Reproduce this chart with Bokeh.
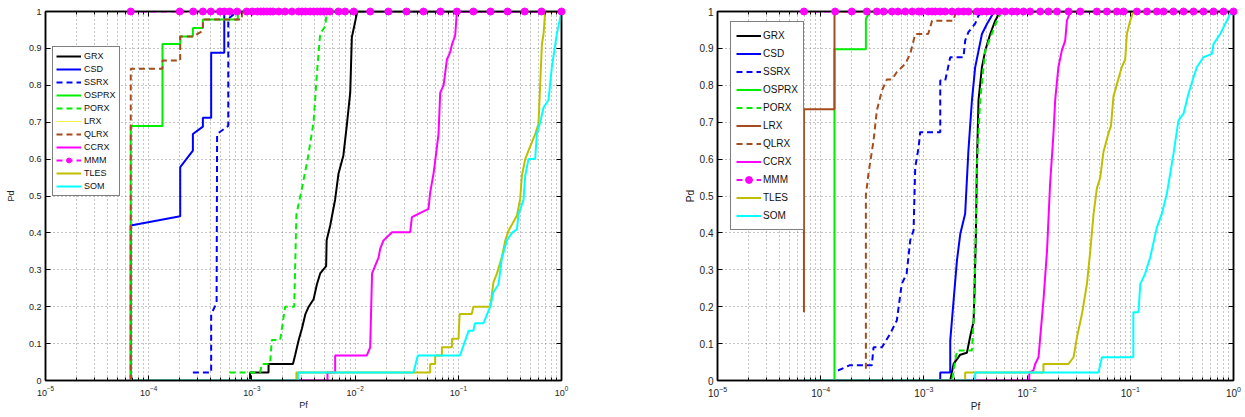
from bokeh.plotting import figure
from bokeh.layouts import row
from bokeh.models import (Range1d, LogAxis, LinearAxis, FixedTicker, CustomJSTickFormatter,
                          Legend, LegendItem)
from bokeh.embed import file_html
from bokeh.resources import INLINE

FONT = "Liberation Sans"

# ---------------- ticks ----------------
x_major = [1e-5, 1e-4, 1e-3, 1e-2, 1e-1, 1e0]
x_minor = [m * 10.0 ** e for e in range(-5, 0) for m in range(2, 10)]
y_major = [0, 0.1, 0.2, 0.3, 0.4, 0.5, 0.6, 0.7, 0.8, 0.9, 1.0]

names = ["GRX", "CSD", "SSRX", "OSPRX", "PORX", "LRX", "QLRX", "CCRX", "MMM", "TLES", "SOM"]

# ---------------- left panel data ----------------
grx_l_pf = [6.7e-5, 9.6e-4, 9.6e-4, 1.45e-3, 1.45e-3, 2.5e-3, 2.63e-3, 2.84e-3, 3.05e-3, 3.3e-3, 3.55e-3,
            3.96e-3, 4.26e-3, 4.59e-3, 5.24e-3, 5.3e-3, 5.74e-3, 6.4e-3, 6.9e-3, 7.7e-3, 8.3e-3, 8.97e-3,
            9.3e-3, 9.8e-3, 1.05e-2, 1.0]
grx_l_pd = [0, 0, 0.022, 0.022, 0.045, 0.045, 0.07, 0.11, 0.14, 0.18, 0.2, 0.22, 0.26, 0.29, 0.31, 0.38,
            0.42, 0.49, 0.56, 0.61, 0.69, 0.78, 0.93, 0.96, 1.0, 1.0]

csd_l_pf = [6.7e-5, 6.7e-5, 2.02e-4, 2.02e-4, 2.68e-4, 2.68e-4, 3.35e-4, 3.35e-4, 4.03e-4, 4.03e-4,
            5.4e-4, 5.4e-4, 1.0]
csd_l_pd = [0, 0.42, 0.445, 0.578, 0.623, 0.668, 0.688, 0.712, 0.712, 0.888, 0.888, 1.0, 1.0]

ssrx_l_pf = [2.68e-4, 4.03e-4, 4.03e-4, 4.55e-4, 4.6e-4, 5.9e-4, 5.9e-4, 7.2e-4, 1.0]
ssrx_l_pd = [0.022, 0.022, 0.18, 0.21, 0.668, 0.69, 0.98, 1.0, 1.0]

osprx_l_pf = [6.7e-5, 6.7e-5, 1.36e-4, 1.36e-4, 2.02e-4, 2.02e-4, 2.68e-4, 2.68e-4, 3.35e-4, 3.35e-4,
              7.3e-4, 7.3e-4, 1.0]
osprx_l_pd = [0, 0.69, 0.69, 0.912, 0.912, 0.932, 0.932, 0.955, 0.955, 0.978, 0.978, 1.0, 1.0]

porx_l_pf = [6.07e-4, 1.2e-3, 1.25e-3, 1.5e-3, 1.56e-3, 1.88e-3, 2.1e-3, 2.57e-3, 2.7e-3, 3.05e-3,
             3.47e-3, 3.96e-3, 4.26e-3, 4.59e-3, 5.13e-3, 5.33e-3, 1.0]
porx_l_pd = [0.022, 0.022, 0.045, 0.045, 0.11, 0.11, 0.2, 0.2, 0.45, 0.52, 0.6, 0.7, 0.83, 0.94, 0.96,
             1.0, 1.0]

lrx_l_pf = [6.7e-5, 1.0]
lrx_l_pd = [1.0, 1.0]

qlrx_l_pf = [6.7e-5, 6.7e-5, 1.36e-4, 1.36e-4, 2.02e-4, 2.02e-4, 2.68e-4, 3.35e-4, 3.35e-4, 8.0e-4,
             8.0e-4, 1.0]
qlrx_l_pd = [0, 0.845, 0.845, 0.867, 0.867, 0.932, 0.932, 0.948, 0.978, 0.978, 1.0, 1.0]

ccrx_l_pf = [6.7e-5, 5.4e-3, 5.4e-3, 6.41e-3, 6.41e-3, 1.30e-2, 1.4e-2, 1.46e-2, 1.57e-2, 1.69e-2,
             1.75e-2, 1.88e-2, 2.28e-2, 3.42e-2, 3.55e-2, 5.14e-2, 5.34e-2, 5.75e-2, 6.0e-2, 6.43e-2,
             6.68e-2, 7.2e-2, 7.76e-2, 8.35e-2, 8.67e-2, 9.33e-2, 9.69e-2, 1.0]
ccrx_l_pd = [0, 0, 0.022, 0.022, 0.068, 0.068, 0.09, 0.29, 0.312, 0.334, 0.357, 0.379, 0.402, 0.402,
             0.443, 0.465, 0.51, 0.56, 0.6, 0.668, 0.78, 0.8, 0.87, 0.89, 0.91, 0.935, 1.0, 1.0]

mmm_l_pf = [6.7e-5, 2.0e-4, 2.7e-4, 3.35e-4, 4.0e-4, 4.9e-4, 5.4e-4, 6.1e-4, 7.2e-4, 8.9e-4, 1.01e-3,
            1.13e-3, 1.22e-3, 1.3e-3, 1.4e-3, 1.5e-3, 1.6e-3, 1.82e-3, 2.1e-3, 2.44e-3, 2.84e-3,
            3.05e-3, 3.3e-3, 3.67e-3, 3.96e-3, 4.3e-3, 4.6e-3, 4.95e-3, 5.3e-3, 5.7e-3, 6.9e-3, 8.0e-3,
            9.7e-3, 1.4e-2, 2.1e-2, 3.15e-2, 4.6e-2, 6.7e-2, 9.7e-2, 0.14, 0.205, 0.3, 0.44, 0.64, 1.0]
mmm_l_pd = [1.0] * len(mmm_l_pf)

tles_l_pf = [6.7e-5, 2.7e-3, 2.7e-3, 5.34e-2, 5.34e-2, 5.97e-2, 5.97e-2, 6.94e-2, 6.94e-2, 8.67e-2,
             8.67e-2, 0.1005, 0.103, 0.135, 0.14, 0.204, 0.219, 0.236, 0.264, 0.285, 0.307, 0.37,
             0.398, 0.413, 0.445, 0.479, 0.517, 0.556, 0.598, 0.622, 0.646, 0.67, 0.695, 1.0]
tles_l_pd = [0, 0, 0.022, 0.022, 0.045, 0.045, 0.068, 0.068, 0.09, 0.09, 0.113, 0.113, 0.18, 0.18,
             0.2, 0.2, 0.266, 0.289, 0.334, 0.379, 0.406, 0.447, 0.492, 0.555, 0.6, 0.623, 0.646,
             0.668, 0.695, 0.804, 0.912, 0.939, 1.0, 1.0]

som_l_pf = [6.7e-5, 2.8e-3, 2.8e-3, 3.68e-2, 4.05e-2, 0.104, 0.126, 0.14, 0.145, 0.175, 0.204, 0.219,
            0.245, 0.264, 0.296, 0.331, 0.37, 0.383, 0.429, 0.445, 0.479, 0.556, 0.577, 0.622, 0.67,
            0.748, 0.807, 0.902, 1.0]
som_l_pd = [0, 0, 0.022, 0.022, 0.068, 0.068, 0.135, 0.135, 0.155, 0.155, 0.2, 0.24, 0.26, 0.33, 0.38,
            0.4, 0.41, 0.45, 0.49, 0.555, 0.6, 0.6, 0.668, 0.7, 0.74, 0.76, 0.85, 0.94, 1.0]

# ---------------- right panel data ----------------
grx_r_pf = [6.88e-5, 1.8e-3, 1.94e-3, 2.25e-3, 2.61e-3, 2.81e-3, 3.03e-3, 3.09e-3, 3.19e-3, 3.26e-3,
            3.38e-3, 3.65e-3, 3.93e-3, 4.39e-3, 4.91e-3, 5.49e-3, 1.0]
grx_r_pd = [0, 0, 0.045, 0.07, 0.075, 0.12, 0.16, 0.235, 0.397, 0.578, 0.759, 0.849, 0.894, 0.939,
            0.975, 1.0, 1.0]

csd_r_pf = [6.88e-5, 1.44e-3, 1.44e-3, 1.8e-3, 1.8e-3, 1.94e-3, 2.09e-3, 2.25e-3, 2.51e-3, 2.7e-3,
            2.92e-3, 3.14e-3, 3.65e-3, 4.08e-3, 4.56e-3, 4.72e-3, 1.0]
csd_r_pd = [0, 0, 0.022, 0.022, 0.108, 0.217, 0.325, 0.397, 0.452, 0.623, 0.759, 0.849, 0.939, 0.966,
            0.989, 1.0, 1.0]

ssrx_r_pf = [1.47e-4, 1.9e-4, 3.13e-4, 3.25e-4, 3.92e-4, 4.72e-4, 5.47e-4, 6.1e-4, 6.8e-4, 7.37e-4,
             7.94e-4, 8.24e-4, 8.9e-4, 9.2e-4, 1.44e-3, 1.44e-3, 1.61e-3, 1.8e-3, 2.42e-3, 2.51e-3,
             2.7e-3, 3.14e-3, 3.38e-3, 3.78e-3, 1.0]
ssrx_r_pd = [0.027, 0.041, 0.041, 0.09, 0.09, 0.127, 0.163, 0.262, 0.289, 0.38, 0.407, 0.578, 0.633,
             0.673, 0.673, 0.813, 0.813, 0.876, 0.876, 0.921, 0.944, 0.967, 0.989, 1.0, 1.0]

osprx_r_pf = [1.36e-4, 1.36e-4, 2.74e-4, 2.74e-4, 3.02e-4, 1.0]
osprx_r_pd = [0, 0.898, 0.898, 0.98, 1.0, 1.0]

porx_r_pf = [6.88e-5, 1.87e-3, 2.09e-3, 2.92e-3, 3.03e-3, 3.14e-3, 3.26e-3, 3.51e-3, 3.93e-3, 4.56e-3,
             5.1e-3, 5.7e-3, 1.0]
porx_r_pd = [0, 0, 0.081, 0.081, 0.163, 0.31, 0.578, 0.76, 0.894, 0.94, 0.975, 1.0, 1.0]

lrx_r_pf = [6.88e-5, 6.88e-5, 1.36e-4, 1.36e-4, 1.0]
lrx_r_pd = [0.185, 0.735, 0.735, 1.0, 1.0]

qlrx_r_pf = [2.74e-4, 2.74e-4, 2.9e-4, 3.25e-4, 3.5e-4, 3.92e-4, 4.38e-4, 4.9e-4, 5.47e-4, 6.59e-4,
             7.37e-4, 7.94e-4, 8.24e-4, 1.1e-3, 1.15e-3, 1.2e-3, 1.92e-3, 2.06e-3, 1.0]
qlrx_r_pd = [0.032, 0.501, 0.56, 0.65, 0.732, 0.786, 0.816, 0.816, 0.836, 0.858, 0.885, 0.921, 0.939,
             0.939, 0.957, 0.975, 0.975, 1.0, 1.0]

ccrx_r_pf = [6.88e-5, 1.05e-2, 1.05e-2, 1.15e-2, 1.2e-2, 1.29e-2, 1.34e-2, 1.44e-2, 1.56e-2, 1.67e-2,
             1.8e-2, 1.87e-2, 2.01e-2, 2.17e-2, 2.34e-2, 2.43e-2, 2.62e-2, 1.0]
ccrx_r_pd = [0, 0, 0.022, 0.027, 0.045, 0.063, 0.117, 0.217, 0.352, 0.533, 0.668, 0.759, 0.849, 0.894,
             0.921, 0.975, 1.0, 1.0]

mmm_r_pf = [6.88e-5, 1.38e-4, 2.0e-4, 2.8e-4, 3.5e-4, 4.07e-4, 4.9e-4, 5.6e-4, 6.6e-4, 7.7e-4, 8.9e-4,
            9.5e-4, 1.1e-3, 1.2e-3, 1.29e-3, 1.44e-3, 1.61e-3, 1.87e-3, 2.16e-3, 2.42e-3, 2.7e-3,
            3.26e-3, 3.65e-3, 4.08e-3, 4.56e-3, 5.28e-3, 6.14e-3, 7.13e-3, 7.96e-3, 9.23e-3, 1.07e-2,
            1.34e-2, 1.61e-2, 1.95e-2, 2.52e-2, 3.27e-2, 4.74e-2, 5.93e-2, 7.41e-2, 8.6e-2, 0.116,
            0.145, 0.181, 0.21, 0.262, 0.328, 0.41, 0.512, 0.64, 0.8, 1.0]
mmm_r_pd = [1.0] * len(mmm_r_pf)

tles_r_pf = [6.88e-5, 2.51e-3, 2.51e-3, 1.44e-2, 1.44e-2, 2.52e-2, 2.82e-2, 3.04e-2, 3.4e-2, 3.8e-2,
             4.09e-2, 4.4e-2, 4.74e-2, 5.11e-2, 5.5e-2, 6.15e-2, 6.5e-2, 6.87e-2, 8.28e-2, 8.93e-2,
             9.27e-2, 9.98e-2, 0.107, 1.0]
tles_r_pd = [0, 0, 0.022, 0.022, 0.045, 0.045, 0.063, 0.117, 0.18, 0.262, 0.35, 0.45, 0.52, 0.55,
             0.62, 0.67, 0.69, 0.77, 0.85, 0.87, 0.94, 0.975, 1.0, 1.0]

som_r_pf = [6.88e-5, 3.14e-3, 3.14e-3, 4.92e-2, 5.31e-2, 0.107, 0.107, 0.12, 0.125, 0.139, 0.156,
            0.181, 0.202, 0.226, 0.262, 0.293, 0.328, 0.366, 0.41, 0.441, 0.512, 0.618, 0.64, 0.743,
            0.8, 0.93, 1.0]
som_r_pd = [0, 0, 0.022, 0.022, 0.063, 0.063, 0.185, 0.185, 0.262, 0.289, 0.334, 0.415, 0.452, 0.506,
            0.614, 0.705, 0.723, 0.777, 0.822, 0.849, 0.876, 0.885, 0.912, 0.939, 0.957, 0.994, 1.0]

left_series = [(grx_l_pf, grx_l_pd), (csd_l_pf, csd_l_pd), (ssrx_l_pf, ssrx_l_pd),
               (osprx_l_pf, osprx_l_pd), (porx_l_pf, porx_l_pd), (lrx_l_pf, lrx_l_pd),
               (qlrx_l_pf, qlrx_l_pd), (ccrx_l_pf, ccrx_l_pd), (mmm_l_pf, mmm_l_pd),
               (tles_l_pf, tles_l_pd), (som_l_pf, som_l_pd)]
right_series = [(grx_r_pf, grx_r_pd), (csd_r_pf, csd_r_pd), (ssrx_r_pf, ssrx_r_pd),
                (osprx_r_pf, osprx_r_pd), (porx_r_pf, porx_r_pd), (lrx_r_pf, lrx_r_pd),
                (qlrx_r_pf, qlrx_r_pd), (ccrx_r_pf, ccrx_r_pd), (mmm_r_pf, mmm_r_pd),
                (tles_r_pf, tles_r_pd), (som_r_pf, som_r_pd)]

# ---------------- styles ----------------
BROWN = "#a44c1c"
DASH = "6 4"
style_common = {
    "GRX": dict(color="black", width=2, dash="solid"),
    "CSD": dict(color="#0000ff", width=2, dash="solid"),
    "SSRX": dict(color="#0000ff", width=2, dash=DASH),
    "OSPRX": dict(color="#00ee00", width=2, dash="solid"),
    "PORX": dict(color="#00ee00", width=2, dash=DASH),
    "QLRX": dict(color=BROWN, width=2, dash=DASH),
    "CCRX": dict(color="#ff00ff", width=2, dash="solid"),
    "MMM": dict(color="#ff00ff", width=2, dash=DASH),
    "TLES": dict(color="#bfbf00", width=2, dash="solid"),
    "SOM": dict(color="#00ffff", width=2, dash="solid"),
}
lrx_left_style = dict(color="#f5f050", width=1, dash="solid")
lrx_right_style = dict(color=BROWN, width=2, dash="solid")

GRID = "#8a8a8a"
BLANK = CustomJSTickFormatter(code="return '';")
HEIGHT = 417


def build(series, lrx_style, width, b_left, b_right, tick_fs, label_fs, ylab_standoff,
          leg_loc, leg_fs, leg_pad, leg_h, leg_standoff):
    p = figure(width=width, height=HEIGHT, x_axis_type="log",
               x_range=Range1d(1e-5, 1.0), y_range=Range1d(0, 1.0),
               output_backend="svg", toolbar_location=None,
               min_border_left=b_left, min_border_right=b_right,
               min_border_top=11, min_border_bottom=HEIGHT - 11 - 369)
    p.background_fill_color = "white"
    p.border_fill_color = "white"
    p.outline_line_color = "black"
    p.outline_line_width = 1.5

    xt = FixedTicker(ticks=x_major, minor_ticks=x_minor)
    yt = FixedTicker(ticks=y_major, minor_ticks=[])

    xa = p.xaxis[0]
    xa.ticker = xt
    ya = p.yaxis[0]
    ya.ticker = yt
    ya.formatter = CustomJSTickFormatter(code="return String(Math.round(tick*10)/10);")
    for ax in (xa, ya):
        ax.axis_line_width = 1.5
        ax.axis_line_color = "black"
        ax.major_tick_in = 5
        ax.major_tick_out = 0
        ax.minor_tick_in = 3
        ax.minor_tick_out = 0
        ax.major_tick_line_width = 1
        ax.minor_tick_line_width = 1
        ax.major_label_text_font = FONT
        ax.major_label_text_font_size = f"{tick_fs}px"
        ax.major_label_text_color = "#222222"
        ax.axis_label_text_font = FONT
        ax.axis_label_text_font_size = f"{label_fs}px"
        ax.axis_label_text_font_style = "normal"
        ax.axis_label_text_color = "#222222"
    xa.major_label_standoff = 5
    xa.axis_label = "Pf"
    xa.axis_label_standoff = 1
    ya.major_label_standoff = 4
    ya.axis_label = "Pd"
    ya.axis_label_standoff = ylab_standoff

    top = LogAxis(ticker=xt, formatter=BLANK, major_label_text_font_size="1px",
                  major_label_standoff=0,
                  major_tick_in=5, major_tick_out=0, minor_tick_in=3, minor_tick_out=0,
                  axis_line_width=1.5)
    p.add_layout(top, "above")
    right = LinearAxis(ticker=yt, formatter=BLANK, major_label_text_font_size="1px",
                       major_label_standoff=0,
                       major_tick_in=5, major_tick_out=0, minor_tick_out=0, axis_line_width=1.5)
    p.add_layout(right, "right")

    p.xgrid.ticker = xt
    p.ygrid.ticker = yt
    for g in (p.xgrid[0], p.ygrid[0]):
        g.grid_line_color = GRID
        g.grid_line_dash = "1 3"
        g.grid_line_width = 1
    p.xgrid.minor_grid_line_color = GRID
    p.xgrid.minor_grid_line_dash = "1 3"
    p.xgrid.minor_grid_line_width = 1

    items = []
    for name, (pf, pd) in zip(names, series):
        st = lrx_style if name == "LRX" else style_common[name]
        r = p.line(pf, pd, line_color=st["color"], line_width=st["width"], line_dash=st["dash"])
        rs = [r]
        if name == "MMM":
            m = p.scatter(pf, pd, marker="circle", size=7, fill_color=st["color"],
                          line_color=st["color"], level="overlay")
            rs.append(m)
        items.append(LegendItem(label=name, renderers=rs))

    leg = Legend(items=items, location=leg_loc, margin=0, padding=leg_pad, spacing=1,
                 glyph_width=25, glyph_height=leg_h, label_height=leg_h,
                 label_standoff=leg_standoff,
                 label_text_font=FONT, label_text_font_size=f"{leg_fs}px",
                 label_text_color="#111111",
                 border_line_color="black", border_line_width=1.5,
                 background_fill_color="white", background_fill_alpha=1.0)
    p.add_layout(leg)
    return p


p1 = build(left_series, lrx_left_style, 578, 45, 17, 9, 9, 10, (7, 184), 9, 3, 12, 3)
p2 = build(right_series, lrx_right_style, 667, 139, 12, 10, 10, 1, (13, 150), 10, 5, 17, 2)

layout = row(p1, p2)
open("out.html", "w").write(file_html(layout, INLINE))
